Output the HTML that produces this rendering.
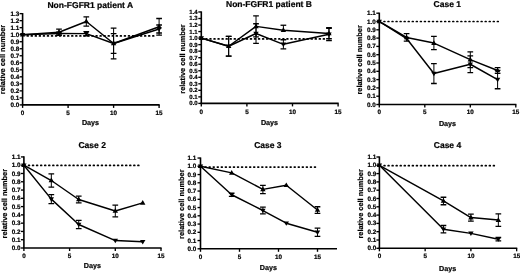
<!DOCTYPE html>
<html><head><meta charset="utf-8"><style>
html,body{margin:0;padding:0;background:#fff;}
body{width:520px;height:273px;overflow:hidden;}
svg{display:block;filter:grayscale(1) blur(0.3px);}
text{font-family:"Liberation Sans", sans-serif;font-weight:bold;fill:#000;stroke:#000;stroke-width:0.2px;text-rendering:geometricPrecision;}
</style></head><body>
<svg width="520" height="273" viewBox="0 0 520 273">
<rect width="520" height="273" fill="#fff"/>
<path d="M22.6 13.04V104.9" stroke="#000" stroke-width="1.6" fill="none"/>
<path d="M21.8 104.9H159.7" stroke="#000" stroke-width="1.6" fill="none"/>
<path d="M19.6 104.9H22.6" stroke="#000" stroke-width="1.35"/>
<text x="19.2" y="106.96" font-size="6.3" text-anchor="end">0.0</text>
<path d="M19.6 97.88H22.6" stroke="#000" stroke-width="1.35"/>
<text x="19.2" y="99.94" font-size="6.3" text-anchor="end">0.1</text>
<path d="M19.6 90.86H22.6" stroke="#000" stroke-width="1.35"/>
<text x="19.2" y="92.92" font-size="6.3" text-anchor="end">0.2</text>
<path d="M19.6 83.84H22.6" stroke="#000" stroke-width="1.35"/>
<text x="19.2" y="85.9" font-size="6.3" text-anchor="end">0.3</text>
<path d="M19.6 76.82H22.6" stroke="#000" stroke-width="1.35"/>
<text x="19.2" y="78.88" font-size="6.3" text-anchor="end">0.4</text>
<path d="M19.6 69.8H22.6" stroke="#000" stroke-width="1.35"/>
<text x="19.2" y="71.86" font-size="6.3" text-anchor="end">0.5</text>
<path d="M19.6 62.78H22.6" stroke="#000" stroke-width="1.35"/>
<text x="19.2" y="64.84" font-size="6.3" text-anchor="end">0.6</text>
<path d="M19.6 55.76H22.6" stroke="#000" stroke-width="1.35"/>
<text x="19.2" y="57.82" font-size="6.3" text-anchor="end">0.7</text>
<path d="M19.6 48.74H22.6" stroke="#000" stroke-width="1.35"/>
<text x="19.2" y="50.8" font-size="6.3" text-anchor="end">0.8</text>
<path d="M19.6 41.72H22.6" stroke="#000" stroke-width="1.35"/>
<text x="19.2" y="43.78" font-size="6.3" text-anchor="end">0.9</text>
<path d="M19.6 34.7H22.6" stroke="#000" stroke-width="1.35"/>
<text x="19.2" y="36.76" font-size="6.3" text-anchor="end">1.0</text>
<path d="M19.6 27.68H22.6" stroke="#000" stroke-width="1.35"/>
<text x="19.2" y="29.74" font-size="6.3" text-anchor="end">1.1</text>
<path d="M19.6 20.66H22.6" stroke="#000" stroke-width="1.35"/>
<text x="19.2" y="22.72" font-size="6.3" text-anchor="end">1.2</text>
<path d="M19.6 13.64H22.6" stroke="#000" stroke-width="1.35"/>
<text x="19.2" y="15.7" font-size="6.3" text-anchor="end">1.3</text>
<path d="M22.6 104.9V107.9" stroke="#000" stroke-width="1.35"/>
<text x="22.6" y="114.7" font-size="6.3" text-anchor="middle">0</text>
<path d="M68.1 104.9V107.9" stroke="#000" stroke-width="1.35"/>
<text x="68.1" y="114.7" font-size="6.3" text-anchor="middle">5</text>
<path d="M113.6 104.9V107.9" stroke="#000" stroke-width="1.35"/>
<text x="113.6" y="114.7" font-size="6.3" text-anchor="middle">10</text>
<path d="M159.1 104.9V107.9" stroke="#000" stroke-width="1.35"/>
<text x="159.1" y="114.7" font-size="6.3" text-anchor="middle">15</text>
<path d="M27.3 35.9H155.3" stroke="#000" stroke-width="1.7" stroke-linecap="round" stroke-dasharray="0.85 3.2"/>
<path d="M22.6 34.7 L59 32.24 L86.3 21.5 L113.6 43.48 L159.1 26.77" stroke="#000" stroke-width="1.45" fill="none" stroke-linejoin="round"/>
<path d="M22.6 31.8L25.3 36.5L19.9 36.5Z" fill="#000"/>
<path d="M59 29.08V35.4" stroke="#000" stroke-width="1.0" fill="none"/>
<path d="M56.15 29.08H61.85M56.15 35.4H61.85" stroke="#000" stroke-width="1.3" fill="none"/>
<path d="M59 29.34L61.7 34.04L56.3 34.04Z" fill="#000"/>
<path d="M86.3 16.87V26.14" stroke="#000" stroke-width="1.0" fill="none"/>
<path d="M83.45 16.87H89.15M83.45 26.14H89.15" stroke="#000" stroke-width="1.3" fill="none"/>
<path d="M86.3 18.6L89 23.3L83.6 23.3Z" fill="#000"/>
<path d="M113.6 28.03V58.92" stroke="#000" stroke-width="1.0" fill="none"/>
<path d="M110.75 28.03H116.45M110.75 58.92H116.45" stroke="#000" stroke-width="1.3" fill="none"/>
<path d="M113.6 40.58L116.3 45.27L110.9 45.27Z" fill="#000"/>
<path d="M159.1 18.48V35.05" stroke="#000" stroke-width="1.0" fill="none"/>
<path d="M156.25 18.48H161.95M156.25 35.05H161.95" stroke="#000" stroke-width="1.3" fill="none"/>
<path d="M159.1 23.87L161.8 28.57L156.4 28.57Z" fill="#000"/>
<path d="M22.6 34.7 L59 33.44 L86.3 33.65 L113.6 43.48 L159.1 29.01" stroke="#000" stroke-width="1.45" fill="none" stroke-linejoin="round"/>
<path d="M22.6 37.3L25.3 32.9L19.9 32.9Z" fill="#000"/>
<path d="M59 32.03V34.84" stroke="#000" stroke-width="1.0" fill="none"/>
<path d="M56.15 32.03H61.85M56.15 34.84H61.85" stroke="#000" stroke-width="1.3" fill="none"/>
<path d="M59 36.04L61.7 31.64L56.3 31.64Z" fill="#000"/>
<path d="M86.3 31.54V35.75" stroke="#000" stroke-width="1.0" fill="none"/>
<path d="M83.45 31.54H89.15M83.45 35.75H89.15" stroke="#000" stroke-width="1.3" fill="none"/>
<path d="M86.3 36.25L89 31.85L83.6 31.85Z" fill="#000"/>
<path d="M113.6 33.65V53.3" stroke="#000" stroke-width="1.0" fill="none"/>
<path d="M110.75 33.65H116.45M110.75 53.3H116.45" stroke="#000" stroke-width="1.3" fill="none"/>
<path d="M113.6 46.08L116.3 41.68L110.9 41.68Z" fill="#000"/>
<path d="M159.1 25.01V33.02" stroke="#000" stroke-width="1.0" fill="none"/>
<path d="M156.25 25.01H161.95M156.25 33.02H161.95" stroke="#000" stroke-width="1.3" fill="none"/>
<path d="M159.1 31.61L161.8 27.21L156.4 27.21Z" fill="#000"/>
<text x="90.3" y="7.8" font-size="8.5" text-anchor="middle">Non-FGFR1 patient A</text>
<text x="90.5" y="124.5" font-size="7.2" text-anchor="middle">Days</text>
<text transform="translate(5.3 59.5) rotate(-90)" x="0" y="0" font-size="7.4" text-anchor="middle">relative cell number</text>
<path d="M201.3 11.38V103.4" stroke="#000" stroke-width="1.6" fill="none"/>
<path d="M200.5 103.4H338.7" stroke="#000" stroke-width="1.6" fill="none"/>
<path d="M198.3 103.4H201.3" stroke="#000" stroke-width="1.35"/>
<text x="197.7" y="105.35" font-size="6.0" text-anchor="end">0.0</text>
<path d="M198.3 96.87H201.3" stroke="#000" stroke-width="1.35"/>
<text x="197.7" y="98.82" font-size="6.0" text-anchor="end">0.1</text>
<path d="M198.3 90.34H201.3" stroke="#000" stroke-width="1.35"/>
<text x="197.7" y="92.29" font-size="6.0" text-anchor="end">0.2</text>
<path d="M198.3 83.81H201.3" stroke="#000" stroke-width="1.35"/>
<text x="197.7" y="85.76" font-size="6.0" text-anchor="end">0.3</text>
<path d="M198.3 77.28H201.3" stroke="#000" stroke-width="1.35"/>
<text x="197.7" y="79.23" font-size="6.0" text-anchor="end">0.4</text>
<path d="M198.3 70.75H201.3" stroke="#000" stroke-width="1.35"/>
<text x="197.7" y="72.7" font-size="6.0" text-anchor="end">0.5</text>
<path d="M198.3 64.22H201.3" stroke="#000" stroke-width="1.35"/>
<text x="197.7" y="66.17" font-size="6.0" text-anchor="end">0.6</text>
<path d="M198.3 57.69H201.3" stroke="#000" stroke-width="1.35"/>
<text x="197.7" y="59.64" font-size="6.0" text-anchor="end">0.7</text>
<path d="M198.3 51.16H201.3" stroke="#000" stroke-width="1.35"/>
<text x="197.7" y="53.11" font-size="6.0" text-anchor="end">0.8</text>
<path d="M198.3 44.63H201.3" stroke="#000" stroke-width="1.35"/>
<text x="197.7" y="46.58" font-size="6.0" text-anchor="end">0.9</text>
<path d="M198.3 38.1H201.3" stroke="#000" stroke-width="1.35"/>
<text x="197.7" y="40.05" font-size="6.0" text-anchor="end">1.0</text>
<path d="M198.3 31.57H201.3" stroke="#000" stroke-width="1.35"/>
<text x="197.7" y="33.52" font-size="6.0" text-anchor="end">1.1</text>
<path d="M198.3 25.04H201.3" stroke="#000" stroke-width="1.35"/>
<text x="197.7" y="26.99" font-size="6.0" text-anchor="end">1.2</text>
<path d="M198.3 18.51H201.3" stroke="#000" stroke-width="1.35"/>
<text x="197.7" y="20.46" font-size="6.0" text-anchor="end">1.3</text>
<path d="M198.3 11.98H201.3" stroke="#000" stroke-width="1.35"/>
<text x="197.7" y="13.93" font-size="6.0" text-anchor="end">1.4</text>
<path d="M201.3 103.4V106.4" stroke="#000" stroke-width="1.35"/>
<text x="201.3" y="113.7" font-size="6.3" text-anchor="middle">0</text>
<path d="M246.9 103.4V106.4" stroke="#000" stroke-width="1.35"/>
<text x="246.9" y="113.7" font-size="6.3" text-anchor="middle">5</text>
<path d="M292.5 103.4V106.4" stroke="#000" stroke-width="1.35"/>
<text x="292.5" y="113.7" font-size="6.3" text-anchor="middle">10</text>
<path d="M338.1 103.4V106.4" stroke="#000" stroke-width="1.35"/>
<text x="338.1" y="113.7" font-size="6.3" text-anchor="middle">15</text>
<path d="M206 38.9H326.3" stroke="#000" stroke-width="1.7" stroke-linecap="round" stroke-dasharray="0.85 3.2"/>
<path d="M201.3 38.1 L228.66 46.26 L256.02 26.35 L283.38 30.26 L328.98 33.53" stroke="#000" stroke-width="1.45" fill="none" stroke-linejoin="round"/>
<path d="M201.3 35.2L204 39.9L198.6 39.9Z" fill="#000"/>
<path d="M228.66 36.47V56.06" stroke="#000" stroke-width="1.0" fill="none"/>
<path d="M225.81 36.47H231.51M225.81 56.06H231.51" stroke="#000" stroke-width="1.3" fill="none"/>
<path d="M228.66 43.36L231.36 48.06L225.96 48.06Z" fill="#000"/>
<path d="M256.02 15.9V36.79" stroke="#000" stroke-width="1.0" fill="none"/>
<path d="M253.17 15.9H258.87M253.17 36.79H258.87" stroke="#000" stroke-width="1.3" fill="none"/>
<path d="M256.02 23.45L258.72 28.15L253.32 28.15Z" fill="#000"/>
<path d="M283.38 25.24V30.26" stroke="#000" stroke-width="1.0" fill="none"/>
<path d="M280.53 25.24H286.23" stroke="#000" stroke-width="1.3" fill="none"/>
<path d="M283.38 27.36L286.08 32.06L280.68 32.06Z" fill="#000"/>
<path d="M328.98 28.31V38.75" stroke="#000" stroke-width="1.0" fill="none"/>
<path d="M326.13 28.31H331.83M326.13 38.75H331.83" stroke="#000" stroke-width="1.3" fill="none"/>
<path d="M328.98 30.63L331.68 35.33L326.28 35.33Z" fill="#000"/>
<path d="M201.3 38.1 L228.66 46.26 L256.02 33.53 L283.38 44.3 L328.98 34.18" stroke="#000" stroke-width="1.45" fill="none" stroke-linejoin="round"/>
<path d="M201.3 40.7L204 36.3L198.6 36.3Z" fill="#000"/>
<path d="M228.66 36.47V56.06" stroke="#000" stroke-width="1.0" fill="none"/>
<path d="M225.81 36.47H231.51M225.81 56.06H231.51" stroke="#000" stroke-width="1.3" fill="none"/>
<path d="M228.66 48.86L231.36 44.46L225.96 44.46Z" fill="#000"/>
<path d="M256.02 23.73V43.32" stroke="#000" stroke-width="1.0" fill="none"/>
<path d="M253.17 23.73H258.87M253.17 43.32H258.87" stroke="#000" stroke-width="1.3" fill="none"/>
<path d="M256.02 36.13L258.72 31.73L253.32 31.73Z" fill="#000"/>
<path d="M283.38 39.73V48.87" stroke="#000" stroke-width="1.0" fill="none"/>
<path d="M280.53 39.73H286.23M280.53 48.87H286.23" stroke="#000" stroke-width="1.3" fill="none"/>
<path d="M283.38 46.9L286.08 42.5L280.68 42.5Z" fill="#000"/>
<path d="M328.98 27.65V40.71" stroke="#000" stroke-width="1.0" fill="none"/>
<path d="M326.13 27.65H331.83M326.13 40.71H331.83" stroke="#000" stroke-width="1.3" fill="none"/>
<path d="M328.98 36.78L331.68 32.38L326.28 32.38Z" fill="#000"/>
<text x="269" y="7.2" font-size="8.5" text-anchor="middle">Non-FGFR1 patient B</text>
<text x="269.5" y="124.8" font-size="7.2" text-anchor="middle">Days</text>
<text transform="translate(184.6 59) rotate(-90)" x="0" y="0" font-size="7.4" text-anchor="middle">relative cell number</text>
<path d="M379.3 12.6V104.5" stroke="#000" stroke-width="1.6" fill="none"/>
<path d="M378.5 104.5H516.4" stroke="#000" stroke-width="1.6" fill="none"/>
<path d="M376.3 104.5H379.3" stroke="#000" stroke-width="1.35"/>
<text x="375.7" y="106.56" font-size="6.3" text-anchor="end">0.0</text>
<path d="M376.3 96.2H379.3" stroke="#000" stroke-width="1.35"/>
<text x="375.7" y="98.26" font-size="6.3" text-anchor="end">0.1</text>
<path d="M376.3 87.9H379.3" stroke="#000" stroke-width="1.35"/>
<text x="375.7" y="89.96" font-size="6.3" text-anchor="end">0.2</text>
<path d="M376.3 79.6H379.3" stroke="#000" stroke-width="1.35"/>
<text x="375.7" y="81.66" font-size="6.3" text-anchor="end">0.3</text>
<path d="M376.3 71.3H379.3" stroke="#000" stroke-width="1.35"/>
<text x="375.7" y="73.36" font-size="6.3" text-anchor="end">0.4</text>
<path d="M376.3 63H379.3" stroke="#000" stroke-width="1.35"/>
<text x="375.7" y="65.06" font-size="6.3" text-anchor="end">0.5</text>
<path d="M376.3 54.7H379.3" stroke="#000" stroke-width="1.35"/>
<text x="375.7" y="56.76" font-size="6.3" text-anchor="end">0.6</text>
<path d="M376.3 46.4H379.3" stroke="#000" stroke-width="1.35"/>
<text x="375.7" y="48.46" font-size="6.3" text-anchor="end">0.7</text>
<path d="M376.3 38.1H379.3" stroke="#000" stroke-width="1.35"/>
<text x="375.7" y="40.16" font-size="6.3" text-anchor="end">0.8</text>
<path d="M376.3 29.8H379.3" stroke="#000" stroke-width="1.35"/>
<text x="375.7" y="31.86" font-size="6.3" text-anchor="end">0.9</text>
<path d="M376.3 21.5H379.3" stroke="#000" stroke-width="1.35"/>
<text x="375.7" y="23.56" font-size="6.3" text-anchor="end">1.0</text>
<path d="M376.3 13.2H379.3" stroke="#000" stroke-width="1.35"/>
<text x="375.7" y="15.26" font-size="6.3" text-anchor="end">1.1</text>
<path d="M379.3 104.5V107.5" stroke="#000" stroke-width="1.35"/>
<text x="379.3" y="114.1" font-size="6.3" text-anchor="middle">0</text>
<path d="M424.8 104.5V107.5" stroke="#000" stroke-width="1.35"/>
<text x="424.8" y="114.1" font-size="6.3" text-anchor="middle">5</text>
<path d="M470.3 104.5V107.5" stroke="#000" stroke-width="1.35"/>
<text x="470.3" y="114.1" font-size="6.3" text-anchor="middle">10</text>
<path d="M515.8 104.5V107.5" stroke="#000" stroke-width="1.35"/>
<text x="515.8" y="114.1" font-size="6.3" text-anchor="middle">15</text>
<path d="M384 21.5H501.3" stroke="#000" stroke-width="1.7" stroke-linecap="round" stroke-dasharray="0.85 3.2"/>
<path d="M379.3 21.5 L406.6 37.44 L433.9 43.08 L470.3 59.68 L497.6 70.47" stroke="#000" stroke-width="1.45" fill="none" stroke-linejoin="round"/>
<path d="M379.3 18.6L382 23.3L376.6 23.3Z" fill="#000"/>
<path d="M406.6 33.7V41.17" stroke="#000" stroke-width="1.0" fill="none"/>
<path d="M403.75 33.7H409.45M403.75 41.17H409.45" stroke="#000" stroke-width="1.3" fill="none"/>
<path d="M406.6 34.54L409.3 39.24L403.9 39.24Z" fill="#000"/>
<path d="M433.9 36.44V49.72" stroke="#000" stroke-width="1.0" fill="none"/>
<path d="M431.05 36.44H436.75M431.05 49.72H436.75" stroke="#000" stroke-width="1.3" fill="none"/>
<path d="M433.9 40.18L436.6 44.88L431.2 44.88Z" fill="#000"/>
<path d="M470.3 51.8V67.56" stroke="#000" stroke-width="1.0" fill="none"/>
<path d="M467.45 51.8H473.15M467.45 67.56H473.15" stroke="#000" stroke-width="1.3" fill="none"/>
<path d="M470.3 56.78L473 61.48L467.6 61.48Z" fill="#000"/>
<path d="M497.6 67.56V73.38" stroke="#000" stroke-width="1.0" fill="none"/>
<path d="M494.75 67.56H500.45M494.75 73.38H500.45" stroke="#000" stroke-width="1.3" fill="none"/>
<path d="M497.6 67.57L500.3 72.27L494.9 72.27Z" fill="#000"/>
<path d="M379.3 21.5 L406.6 38.52 L433.9 73.54 L470.3 64.25 L497.6 79.6" stroke="#000" stroke-width="1.45" fill="none" stroke-linejoin="round"/>
<path d="M379.3 24.1L382 19.7L376.6 19.7Z" fill="#000"/>
<path d="M406.6 41.12L409.3 36.72L403.9 36.72Z" fill="#000"/>
<path d="M433.9 63.58V83.5" stroke="#000" stroke-width="1.0" fill="none"/>
<path d="M431.05 63.58H436.75M431.05 83.5H436.75" stroke="#000" stroke-width="1.3" fill="none"/>
<path d="M433.9 76.14L436.6 71.74L431.2 71.74Z" fill="#000"/>
<path d="M470.3 55.95V72.55" stroke="#000" stroke-width="1.0" fill="none"/>
<path d="M467.45 55.95H473.15M467.45 72.55H473.15" stroke="#000" stroke-width="1.3" fill="none"/>
<path d="M470.3 66.84L473 62.45L467.6 62.45Z" fill="#000"/>
<path d="M497.6 70.47V88.73" stroke="#000" stroke-width="1.0" fill="none"/>
<path d="M494.75 70.47H500.45M494.75 88.73H500.45" stroke="#000" stroke-width="1.3" fill="none"/>
<path d="M497.6 82.2L500.3 77.8L494.9 77.8Z" fill="#000"/>
<text x="447.3" y="6.9" font-size="8.5" text-anchor="middle">Case 1</text>
<text x="447.5" y="126.4" font-size="7.2" text-anchor="middle">Days</text>
<text transform="translate(362.4 59.9) rotate(-90)" x="0" y="0" font-size="7.4" text-anchor="middle">relative cell number</text>
<path d="M23.9 156.32V248" stroke="#000" stroke-width="1.6" fill="none"/>
<path d="M23.1 248H161.6" stroke="#000" stroke-width="1.6" fill="none"/>
<path d="M20.9 248H23.9" stroke="#000" stroke-width="1.35"/>
<text x="20.6" y="250.06" font-size="6.3" text-anchor="end">0.0</text>
<path d="M20.9 239.72H23.9" stroke="#000" stroke-width="1.35"/>
<text x="20.6" y="241.78" font-size="6.3" text-anchor="end">0.1</text>
<path d="M20.9 231.44H23.9" stroke="#000" stroke-width="1.35"/>
<text x="20.6" y="233.5" font-size="6.3" text-anchor="end">0.2</text>
<path d="M20.9 223.16H23.9" stroke="#000" stroke-width="1.35"/>
<text x="20.6" y="225.22" font-size="6.3" text-anchor="end">0.3</text>
<path d="M20.9 214.88H23.9" stroke="#000" stroke-width="1.35"/>
<text x="20.6" y="216.94" font-size="6.3" text-anchor="end">0.4</text>
<path d="M20.9 206.6H23.9" stroke="#000" stroke-width="1.35"/>
<text x="20.6" y="208.66" font-size="6.3" text-anchor="end">0.5</text>
<path d="M20.9 198.32H23.9" stroke="#000" stroke-width="1.35"/>
<text x="20.6" y="200.38" font-size="6.3" text-anchor="end">0.6</text>
<path d="M20.9 190.04H23.9" stroke="#000" stroke-width="1.35"/>
<text x="20.6" y="192.1" font-size="6.3" text-anchor="end">0.7</text>
<path d="M20.9 181.76H23.9" stroke="#000" stroke-width="1.35"/>
<text x="20.6" y="183.82" font-size="6.3" text-anchor="end">0.8</text>
<path d="M20.9 173.48H23.9" stroke="#000" stroke-width="1.35"/>
<text x="20.6" y="175.54" font-size="6.3" text-anchor="end">0.9</text>
<path d="M20.9 165.2H23.9" stroke="#000" stroke-width="1.35"/>
<text x="20.6" y="167.26" font-size="6.3" text-anchor="end">1.0</text>
<path d="M20.9 156.92H23.9" stroke="#000" stroke-width="1.35"/>
<text x="20.6" y="158.98" font-size="6.3" text-anchor="end">1.1</text>
<path d="M23.9 248V251" stroke="#000" stroke-width="1.35"/>
<text x="23.9" y="257.7" font-size="6.3" text-anchor="middle">0</text>
<path d="M69.6 248V251" stroke="#000" stroke-width="1.35"/>
<text x="69.6" y="257.7" font-size="6.3" text-anchor="middle">5</text>
<path d="M115.3 248V251" stroke="#000" stroke-width="1.35"/>
<text x="115.3" y="257.7" font-size="6.3" text-anchor="middle">10</text>
<path d="M161 248V251" stroke="#000" stroke-width="1.35"/>
<text x="161" y="257.7" font-size="6.3" text-anchor="middle">15</text>
<path d="M28.6 165.4H140.3" stroke="#000" stroke-width="1.7" stroke-linecap="round" stroke-dasharray="0.85 3.2"/>
<path d="M23.9 165.2 L51.32 180.52 L78.74 199.48 L115.3 210.99 L142.72 202.87" stroke="#000" stroke-width="1.45" fill="none" stroke-linejoin="round"/>
<path d="M23.9 162.3L26.6 167L21.2 167Z" fill="#000"/>
<path d="M51.32 173.89V187.14" stroke="#000" stroke-width="1.0" fill="none"/>
<path d="M48.47 173.89H54.17M48.47 187.14H54.17" stroke="#000" stroke-width="1.3" fill="none"/>
<path d="M51.32 177.62L54.02 182.32L48.62 182.32Z" fill="#000"/>
<path d="M78.74 196.17V202.79" stroke="#000" stroke-width="1.0" fill="none"/>
<path d="M75.89 196.17H81.59M75.89 202.79H81.59" stroke="#000" stroke-width="1.3" fill="none"/>
<path d="M78.74 196.58L81.44 201.28L76.04 201.28Z" fill="#000"/>
<path d="M115.3 205.19V216.78" stroke="#000" stroke-width="1.0" fill="none"/>
<path d="M112.45 205.19H118.15M112.45 216.78H118.15" stroke="#000" stroke-width="1.3" fill="none"/>
<path d="M115.3 208.09L118 212.79L112.6 212.79Z" fill="#000"/>
<path d="M142.72 199.97L145.42 204.67L140.02 204.67Z" fill="#000"/>
<path d="M23.9 165.2 L51.32 199.15 L78.74 224.48 L115.3 240.55 L142.72 241.79" stroke="#000" stroke-width="1.45" fill="none" stroke-linejoin="round"/>
<path d="M23.9 167.8L26.6 163.4L21.2 163.4Z" fill="#000"/>
<path d="M51.32 194.59V203.7" stroke="#000" stroke-width="1.0" fill="none"/>
<path d="M48.47 194.59H54.17M48.47 203.7H54.17" stroke="#000" stroke-width="1.3" fill="none"/>
<path d="M51.32 201.75L54.02 197.35L48.62 197.35Z" fill="#000"/>
<path d="M78.74 220.34V228.62" stroke="#000" stroke-width="1.0" fill="none"/>
<path d="M75.89 220.34H81.59M75.89 228.62H81.59" stroke="#000" stroke-width="1.3" fill="none"/>
<path d="M78.74 227.08L81.44 222.68L76.04 222.68Z" fill="#000"/>
<path d="M115.3 243.15L118 238.75L112.6 238.75Z" fill="#000"/>
<path d="M142.72 244.39L145.42 239.99L140.02 239.99Z" fill="#000"/>
<text x="92.2" y="147.5" font-size="8.5" text-anchor="middle">Case 2</text>
<text x="92.4" y="268.1" font-size="7.2" text-anchor="middle">Days</text>
<text transform="translate(7 203.7) rotate(-90)" x="0" y="0" font-size="7.4" text-anchor="middle">relative cell number</text>
<path d="M200.5 157.45V248.8" stroke="#000" stroke-width="1.6" fill="none"/>
<path d="M199.7 248.8H337" stroke="#000" stroke-width="1.6" fill="none"/>
<path d="M197.5 248.8H200.5" stroke="#000" stroke-width="1.35"/>
<text x="196.2" y="250.86" font-size="6.3" text-anchor="end">0.0</text>
<path d="M197.5 240.55H200.5" stroke="#000" stroke-width="1.35"/>
<text x="196.2" y="242.61" font-size="6.3" text-anchor="end">0.1</text>
<path d="M197.5 232.3H200.5" stroke="#000" stroke-width="1.35"/>
<text x="196.2" y="234.36" font-size="6.3" text-anchor="end">0.2</text>
<path d="M197.5 224.05H200.5" stroke="#000" stroke-width="1.35"/>
<text x="196.2" y="226.11" font-size="6.3" text-anchor="end">0.3</text>
<path d="M197.5 215.8H200.5" stroke="#000" stroke-width="1.35"/>
<text x="196.2" y="217.86" font-size="6.3" text-anchor="end">0.4</text>
<path d="M197.5 207.55H200.5" stroke="#000" stroke-width="1.35"/>
<text x="196.2" y="209.61" font-size="6.3" text-anchor="end">0.5</text>
<path d="M197.5 199.3H200.5" stroke="#000" stroke-width="1.35"/>
<text x="196.2" y="201.36" font-size="6.3" text-anchor="end">0.6</text>
<path d="M197.5 191.05H200.5" stroke="#000" stroke-width="1.35"/>
<text x="196.2" y="193.11" font-size="6.3" text-anchor="end">0.7</text>
<path d="M197.5 182.8H200.5" stroke="#000" stroke-width="1.35"/>
<text x="196.2" y="184.86" font-size="6.3" text-anchor="end">0.8</text>
<path d="M197.5 174.55H200.5" stroke="#000" stroke-width="1.35"/>
<text x="196.2" y="176.61" font-size="6.3" text-anchor="end">0.9</text>
<path d="M197.5 166.3H200.5" stroke="#000" stroke-width="1.35"/>
<text x="196.2" y="168.36" font-size="6.3" text-anchor="end">1.0</text>
<path d="M197.5 158.05H200.5" stroke="#000" stroke-width="1.35"/>
<text x="196.2" y="160.11" font-size="6.3" text-anchor="end">1.1</text>
<path d="M200.5 248.8V251.8" stroke="#000" stroke-width="1.35"/>
<text x="200.5" y="259" font-size="6.3" text-anchor="middle">0</text>
<path d="M239.5 248.8V251.8" stroke="#000" stroke-width="1.35"/>
<text x="239.5" y="259" font-size="6.3" text-anchor="middle">5</text>
<path d="M278.5 248.8V251.8" stroke="#000" stroke-width="1.35"/>
<text x="278.5" y="259" font-size="6.3" text-anchor="middle">10</text>
<path d="M317.5 248.8V251.8" stroke="#000" stroke-width="1.35"/>
<text x="317.5" y="259" font-size="6.3" text-anchor="middle">15</text>
<path d="M205.2 167.1H317.3" stroke="#000" stroke-width="1.7" stroke-linecap="round" stroke-dasharray="0.85 3.2"/>
<path d="M200.5 166.3 L231.7 172.9 L262.9 189.4 L286.3 185.28 L317.5 210.03" stroke="#000" stroke-width="1.45" fill="none" stroke-linejoin="round"/>
<path d="M200.5 163.4L203.2 168.1L197.8 168.1Z" fill="#000"/>
<path d="M231.7 170L234.4 174.7L229 174.7Z" fill="#000"/>
<path d="M262.9 185.28V193.53" stroke="#000" stroke-width="1.0" fill="none"/>
<path d="M260.05 185.28H265.75M260.05 193.53H265.75" stroke="#000" stroke-width="1.3" fill="none"/>
<path d="M262.9 186.5L265.6 191.2L260.2 191.2Z" fill="#000"/>
<path d="M286.3 182.38L289 187.08L283.6 187.08Z" fill="#000"/>
<path d="M317.5 206.73V213.33" stroke="#000" stroke-width="1.0" fill="none"/>
<path d="M314.65 206.73H320.35M314.65 213.33H320.35" stroke="#000" stroke-width="1.3" fill="none"/>
<path d="M317.5 207.12L320.2 211.83L314.8 211.83Z" fill="#000"/>
<path d="M200.5 166.3 L231.7 194.76 L262.9 210.52 L286.3 223.23 L317.5 232.3" stroke="#000" stroke-width="1.45" fill="none" stroke-linejoin="round"/>
<path d="M200.5 168.9L203.2 164.5L197.8 164.5Z" fill="#000"/>
<path d="M231.7 193.11V196.41" stroke="#000" stroke-width="1.0" fill="none"/>
<path d="M228.85 193.11H234.55M228.85 196.41H234.55" stroke="#000" stroke-width="1.3" fill="none"/>
<path d="M231.7 197.36L234.4 192.96L229 192.96Z" fill="#000"/>
<path d="M262.9 207.22V213.82" stroke="#000" stroke-width="1.0" fill="none"/>
<path d="M260.05 207.22H265.75M260.05 213.82H265.75" stroke="#000" stroke-width="1.3" fill="none"/>
<path d="M262.9 213.12L265.6 208.72L260.2 208.72Z" fill="#000"/>
<path d="M286.3 225.83L289 221.43L283.6 221.43Z" fill="#000"/>
<path d="M317.5 228.18V236.43" stroke="#000" stroke-width="1.0" fill="none"/>
<path d="M314.65 228.18H320.35M314.65 236.43H320.35" stroke="#000" stroke-width="1.3" fill="none"/>
<path d="M317.5 234.9L320.2 230.5L314.8 230.5Z" fill="#000"/>
<text x="267.9" y="147.5" font-size="8.5" text-anchor="middle">Case 3</text>
<text x="268.4" y="269.5" font-size="7.2" text-anchor="middle">Days</text>
<text transform="translate(183.5 204.2) rotate(-90)" x="0" y="0" font-size="7.4" text-anchor="middle">relative cell number</text>
<path d="M379.4 156.4V248.3" stroke="#000" stroke-width="1.6" fill="none"/>
<path d="M378.6 248.3H517.25" stroke="#000" stroke-width="1.6" fill="none"/>
<path d="M376.4 248.3H379.4" stroke="#000" stroke-width="1.35"/>
<text x="376.2" y="250.36" font-size="6.3" text-anchor="end">0.0</text>
<path d="M376.4 240H379.4" stroke="#000" stroke-width="1.35"/>
<text x="376.2" y="242.06" font-size="6.3" text-anchor="end">0.1</text>
<path d="M376.4 231.7H379.4" stroke="#000" stroke-width="1.35"/>
<text x="376.2" y="233.76" font-size="6.3" text-anchor="end">0.2</text>
<path d="M376.4 223.4H379.4" stroke="#000" stroke-width="1.35"/>
<text x="376.2" y="225.46" font-size="6.3" text-anchor="end">0.3</text>
<path d="M376.4 215.1H379.4" stroke="#000" stroke-width="1.35"/>
<text x="376.2" y="217.16" font-size="6.3" text-anchor="end">0.4</text>
<path d="M376.4 206.8H379.4" stroke="#000" stroke-width="1.35"/>
<text x="376.2" y="208.86" font-size="6.3" text-anchor="end">0.5</text>
<path d="M376.4 198.5H379.4" stroke="#000" stroke-width="1.35"/>
<text x="376.2" y="200.56" font-size="6.3" text-anchor="end">0.6</text>
<path d="M376.4 190.2H379.4" stroke="#000" stroke-width="1.35"/>
<text x="376.2" y="192.26" font-size="6.3" text-anchor="end">0.7</text>
<path d="M376.4 181.9H379.4" stroke="#000" stroke-width="1.35"/>
<text x="376.2" y="183.96" font-size="6.3" text-anchor="end">0.8</text>
<path d="M376.4 173.6H379.4" stroke="#000" stroke-width="1.35"/>
<text x="376.2" y="175.66" font-size="6.3" text-anchor="end">0.9</text>
<path d="M376.4 165.3H379.4" stroke="#000" stroke-width="1.35"/>
<text x="376.2" y="167.36" font-size="6.3" text-anchor="end">1.0</text>
<path d="M376.4 157H379.4" stroke="#000" stroke-width="1.35"/>
<text x="376.2" y="159.06" font-size="6.3" text-anchor="end">1.1</text>
<path d="M379.4 248.3V251.3" stroke="#000" stroke-width="1.35"/>
<text x="379.4" y="258" font-size="6.3" text-anchor="middle">0</text>
<path d="M425.15 248.3V251.3" stroke="#000" stroke-width="1.35"/>
<text x="425.15" y="258" font-size="6.3" text-anchor="middle">5</text>
<path d="M470.9 248.3V251.3" stroke="#000" stroke-width="1.35"/>
<text x="470.9" y="258" font-size="6.3" text-anchor="middle">10</text>
<path d="M516.65 248.3V251.3" stroke="#000" stroke-width="1.35"/>
<text x="516.65" y="258" font-size="6.3" text-anchor="middle">15</text>
<path d="M384.1 165.7H496.3" stroke="#000" stroke-width="1.7" stroke-linecap="round" stroke-dasharray="0.85 3.2"/>
<path d="M379.4 165.3 L443.45 200.99 L470.9 217.59 L498.35 220.08" stroke="#000" stroke-width="1.45" fill="none" stroke-linejoin="round"/>
<path d="M379.4 162.4L382.1 167.1L376.7 167.1Z" fill="#000"/>
<path d="M443.45 197.25V204.73" stroke="#000" stroke-width="1.0" fill="none"/>
<path d="M440.6 197.25H446.3M440.6 204.73H446.3" stroke="#000" stroke-width="1.3" fill="none"/>
<path d="M443.45 198.09L446.15 202.79L440.75 202.79Z" fill="#000"/>
<path d="M470.9 214.1V221.08" stroke="#000" stroke-width="1.0" fill="none"/>
<path d="M468.05 214.1H473.75M468.05 221.08H473.75" stroke="#000" stroke-width="1.3" fill="none"/>
<path d="M470.9 214.69L473.6 219.39L468.2 219.39Z" fill="#000"/>
<path d="M498.35 213.86V226.31" stroke="#000" stroke-width="1.0" fill="none"/>
<path d="M495.5 213.86H501.2M495.5 226.31H501.2" stroke="#000" stroke-width="1.3" fill="none"/>
<path d="M498.35 217.18L501.05 221.88L495.65 221.88Z" fill="#000"/>
<path d="M379.4 165.3 L443.45 229.21 L470.9 233.36 L498.35 239.17" stroke="#000" stroke-width="1.45" fill="none" stroke-linejoin="round"/>
<path d="M379.4 167.9L382.1 163.5L376.7 163.5Z" fill="#000"/>
<path d="M443.45 225.48V232.95" stroke="#000" stroke-width="1.0" fill="none"/>
<path d="M440.6 225.48H446.3M440.6 232.95H446.3" stroke="#000" stroke-width="1.3" fill="none"/>
<path d="M443.45 231.81L446.15 227.41L440.75 227.41Z" fill="#000"/>
<path d="M470.9 235.96L473.6 231.56L468.2 231.56Z" fill="#000"/>
<path d="M498.35 237.51V240.83" stroke="#000" stroke-width="1.0" fill="none"/>
<path d="M495.5 237.51H501.2M495.5 240.83H501.2" stroke="#000" stroke-width="1.3" fill="none"/>
<path d="M498.35 241.77L501.05 237.37L495.65 237.37Z" fill="#000"/>
<text x="447.5" y="147.5" font-size="8.5" text-anchor="middle">Case 4</text>
<text x="447.7" y="271" font-size="7.2" text-anchor="middle">Days</text>
<text transform="translate(362.6 203.9) rotate(-90)" x="0" y="0" font-size="7.4" text-anchor="middle">relative cell number</text>
</svg>
</body></html>
